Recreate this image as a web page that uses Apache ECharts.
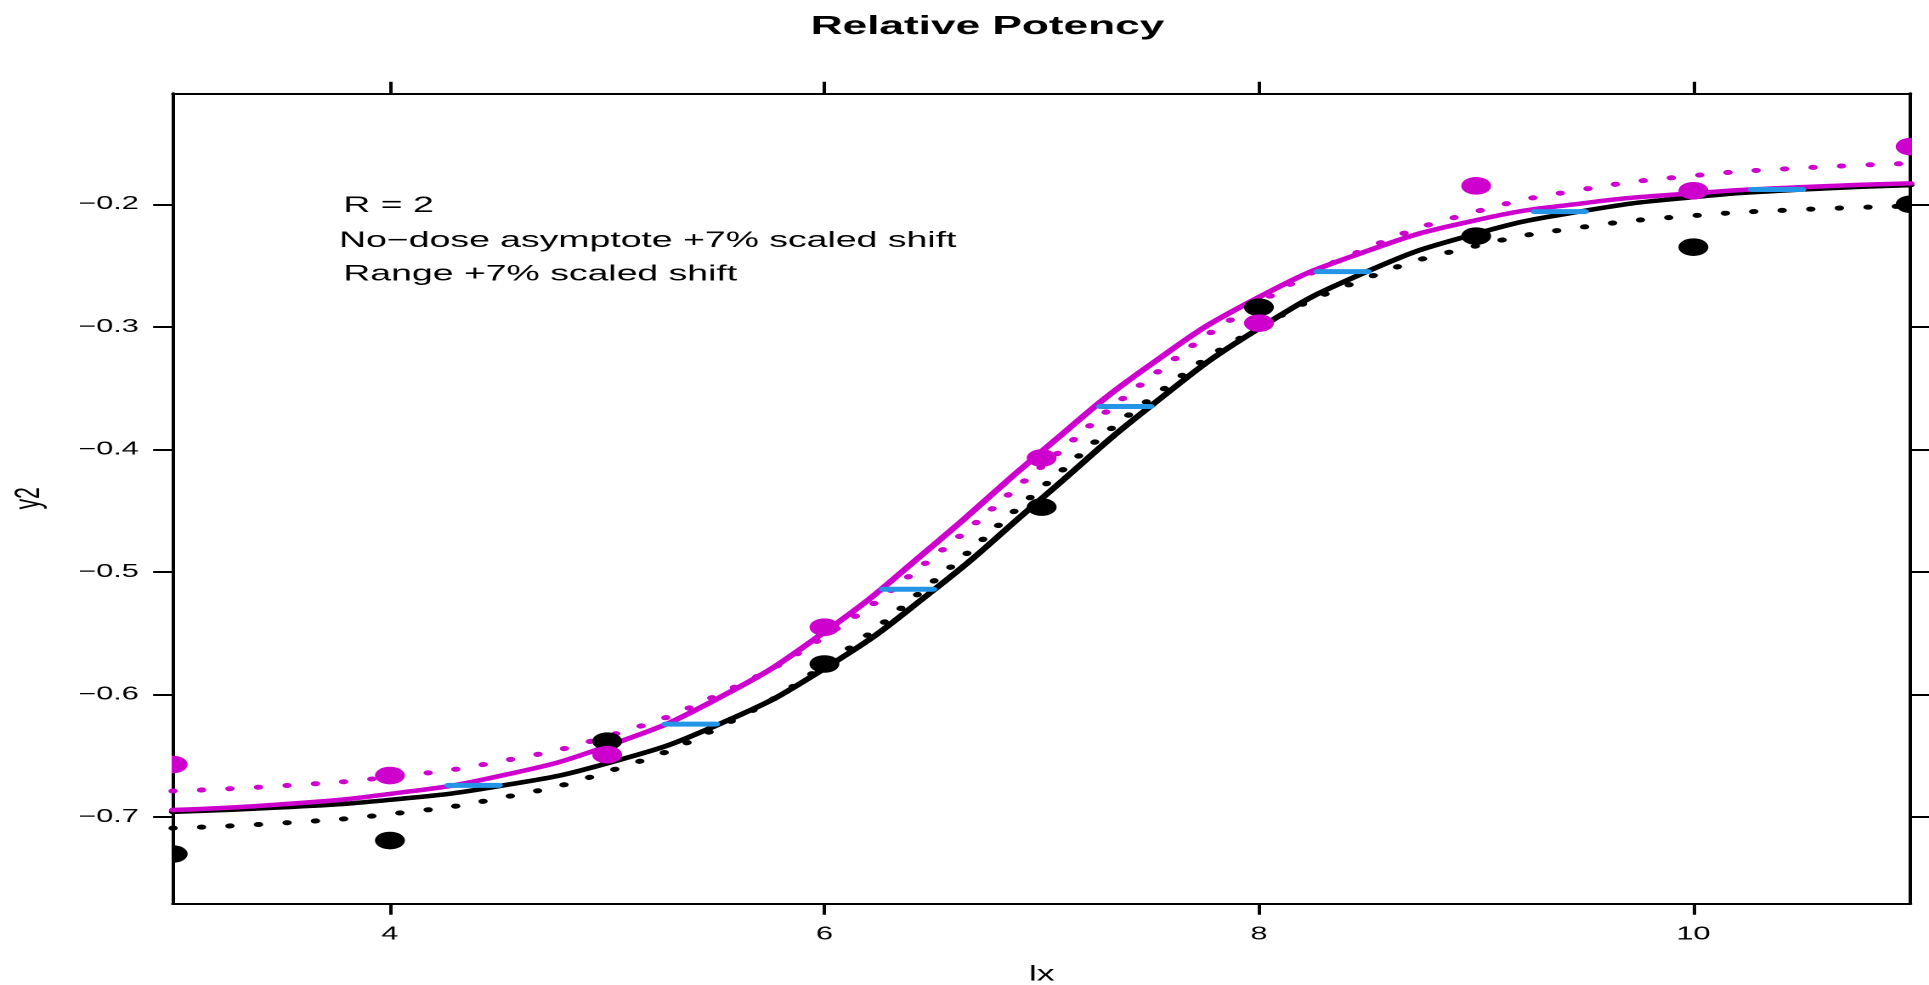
<!DOCTYPE html>
<html>
<head>
<meta charset="utf-8">
<script src="https://cdn.jsdelivr.net/npm/echarts@6/dist/echarts.min.js"></script>
<style>
html,body{margin:0;padding:0;background:#fff;overflow:hidden}
#wrap{width:1929px;height:985px;overflow:hidden;position:relative;background:#fff}
#chart{width:1135px;height:985px;transform:scaleX(1.69956);transform-origin:0 0}
</style>
</head>
<body>
<div id="wrap"><div id="chart"></div></div>
<script>
// ---------- data ----------
const titleText = 'Relative Potency';
const xName = 'lx';
const yName = 'y2';
const noteLines = ['R = 2', 'No\u2212dose asymptote +7% scaled shift', 'Range +7% scaled shift'];
const xTicks = [4, 6, 8, 10];
const yTicks = [-0.7, -0.6, -0.5, -0.4, -0.3, -0.2];

const doseX = [3, 4, 5, 6, 7, 8, 9, 10, 11];
const blackPts = [-0.730, -0.719, -0.638, -0.575, -0.447, -0.284, -0.226, -0.235, -0.200];
const magentaPts = [-0.657, -0.666, -0.649, -0.545, -0.407, -0.297, -0.185, -0.189, -0.153];

const curveX = [3, 3.5, 4, 4.5, 5, 5.5, 6, 6.5, 7, 7.5, 8, 8.5, 9, 9.5, 10, 10.5, 11];
const blackSolid = [-0.6956, -0.6920, -0.6858, -0.6747, -0.6560, -0.6253, -0.5787, -0.5151, -0.4400, -0.3649, -0.3013, -0.2547, -0.2240, -0.2053, -0.1942, -0.1880, -0.1844];
const magentaSolid = [-0.6941, -0.6895, -0.6810, -0.6666, -0.6420, -0.6040, -0.5490, -0.4784, -0.4016, -0.3310, -0.2758, -0.2380, -0.2130, -0.1990, -0.1910, -0.1860, -0.1830];
const blackDotted = [-0.7089, -0.7048, -0.6974, -0.6846, -0.6629, -0.6279, -0.5760, -0.5079, -0.4313, -0.3588, -0.3007, -0.2600, -0.2340, -0.2184, -0.2093, -0.2043, -0.2015];
const magentaDotted = [-0.6786, -0.6744, -0.6672, -0.6547, -0.6340, -0.6010, -0.5525, -0.4880, -0.4140, -0.3413, -0.2804, -0.2358, -0.2060, -0.1877, -0.1767, -0.1704, -0.1667];

const segStart = [4.27, 5.27, 6.27, 7.27, 8.27, 9.27, 10.27];
const segEnd = [4.50, 5.50, 6.50, 7.50, 8.50, 9.50, 10.50];
const segY = [-0.674, -0.624, -0.514, -0.365, -0.255, -0.206, -0.188];

// ---------- styles ----------
const BLACK = '#000000';
const MAGENTA = '#CD00CD';
const BLUE = '#2394E6';
const FONT = 'Liberation Sans, Arial, sans-serif';

const pairs = (xs, ys) => xs.map((x, i) => [x, ys[i]]);
const fmtY = v => (v < 0 ? '\u2212' : '') + Math.abs(v).toFixed(1);

function pointSeries(ys, color) {
  return {
    type: 'custom',
    clip: true,
    data: pairs(doseX, ys),
    encode: { x: 0, y: 1 },
    z: 5,
    renderItem: (params, api) => {
      const p = api.coord([api.value(0), api.value(1)]);
      return { type: 'circle', shape: { cx: p[0], cy: p[1], r: 8.8 }, style: { fill: color } };
    }
  };
}

function lineSeries(ys, color, dotted) {
  return {
    type: 'line',
    data: pairs(curveX, ys),
    smooth: 0.5,
    showSymbol: false,
    symbol: 'none',
    z: dotted ? 2 : 3,
    lineStyle: dotted
      ? { color: color, width: 5, type: [0.5, 16.3], cap: 'round' }
      : { color: color, width: 4.5, cap: 'round', join: 'round' }
  };
}

const chart = echarts.init(document.getElementById('chart'), null, { renderer: 'canvas', devicePixelRatio: 2 });

const axisLineStyle = { color: BLACK, width: 2 };

const option = {
  animation: false,
  backgroundColor: '#ffffff',
  title: {
    text: titleText,
    left: 576,
    top: 9,
    textAlign: 'center',
    textStyle: { fontSize: 26, fontWeight: 'bold', fontFamily: FONT, color: BLACK }
  },
  grid: { left: 101.6, right: 10.8, top: 93.3, bottom: 81.7, containLabel: false, outerBoundsMode: 'none' },
  xAxis: [
    {
      type: 'value', min: 3, max: 11, position: 'bottom',
      name: xName, nameLocation: 'middle', nameGap: 61,
      nameTextStyle: { fontSize: 21, fontFamily: FONT, color: BLACK },
      axisLine: { show: true, onZero: false, lineStyle: axisLineStyle },
      axisTick: { show: true, length: 11.5, customValues: xTicks, lineStyle: axisLineStyle },
      axisLabel: { show: true, customValues: xTicks, margin: 22, fontSize: 18, fontFamily: FONT, color: BLACK },
      splitLine: { show: false }
    },
    {
      type: 'value', min: 3, max: 11, position: 'top',
      axisLine: { show: true, onZero: false, lineStyle: axisLineStyle },
      axisTick: { show: true, length: 11.5, customValues: xTicks, lineStyle: axisLineStyle },
      axisLabel: { show: false },
      splitLine: { show: false }
    }
  ],
  yAxis: [
    {
      type: 'value', min: -0.7702, max: -0.1095, position: 'left',
      name: yName, nameLocation: 'middle', nameGap: 74,
      nameTextStyle: { fontSize: 21, fontFamily: FONT, color: BLACK },
      axisLine: { show: true, onZero: false, lineStyle: axisLineStyle },
      axisTick: { show: true, length: 11.5, customValues: yTicks, lineStyle: axisLineStyle },
      axisLabel: { show: true, customValues: yTicks, formatter: fmtY, margin: 20, fontSize: 18, fontFamily: FONT, color: BLACK },
      splitLine: { show: false }
    },
    {
      type: 'value', min: -0.7702, max: -0.1095, position: 'right',
      axisLine: { show: true, onZero: false, lineStyle: axisLineStyle },
      axisTick: { show: true, length: 11.5, customValues: yTicks, lineStyle: axisLineStyle },
      axisLabel: { show: false },
      splitLine: { show: false }
    }
  ],
  graphic: [
    { type: 'text', x: 202, y: 205.8, silent: true, style: { text: noteLines[0], font: '22px ' + FONT, fill: BLACK, verticalAlign: 'middle', align: 'left' } },
    { type: 'text', x: 199.5, y: 240.8, silent: true, style: { text: noteLines[1], font: '22px ' + FONT, fill: BLACK, verticalAlign: 'middle', align: 'left' } },
    { type: 'text', x: 202, y: 274.2, silent: true, style: { text: noteLines[2], font: '22px ' + FONT, fill: BLACK, verticalAlign: 'middle', align: 'left' } }
  ],
  series: [
    lineSeries(blackDotted, BLACK, true),
    lineSeries(magentaDotted, MAGENTA, true),
    lineSeries(blackSolid, BLACK, false),
    lineSeries(magentaSolid, MAGENTA, false),
    pointSeries(blackPts, BLACK),
    pointSeries(magentaPts, MAGENTA),
    {
      type: 'custom',
      clip: true,
      z: 6,
      data: segStart.map((s, i) => [s, segEnd[i], segY[i]]),
      encode: { x: [0, 1], y: 2 },
      renderItem: (params, api) => {
        const a = api.coord([api.value(0), api.value(2)]);
        const b = api.coord([api.value(1), api.value(2)]);
        return {
          type: 'line',
          shape: { x1: a[0], y1: a[1], x2: b[0], y2: b[1] },
          style: { stroke: BLUE, lineWidth: 5, lineCap: 'round' }
        };
      }
    }
  ]
};

chart.setOption(option);
</script>
</body>
</html>
